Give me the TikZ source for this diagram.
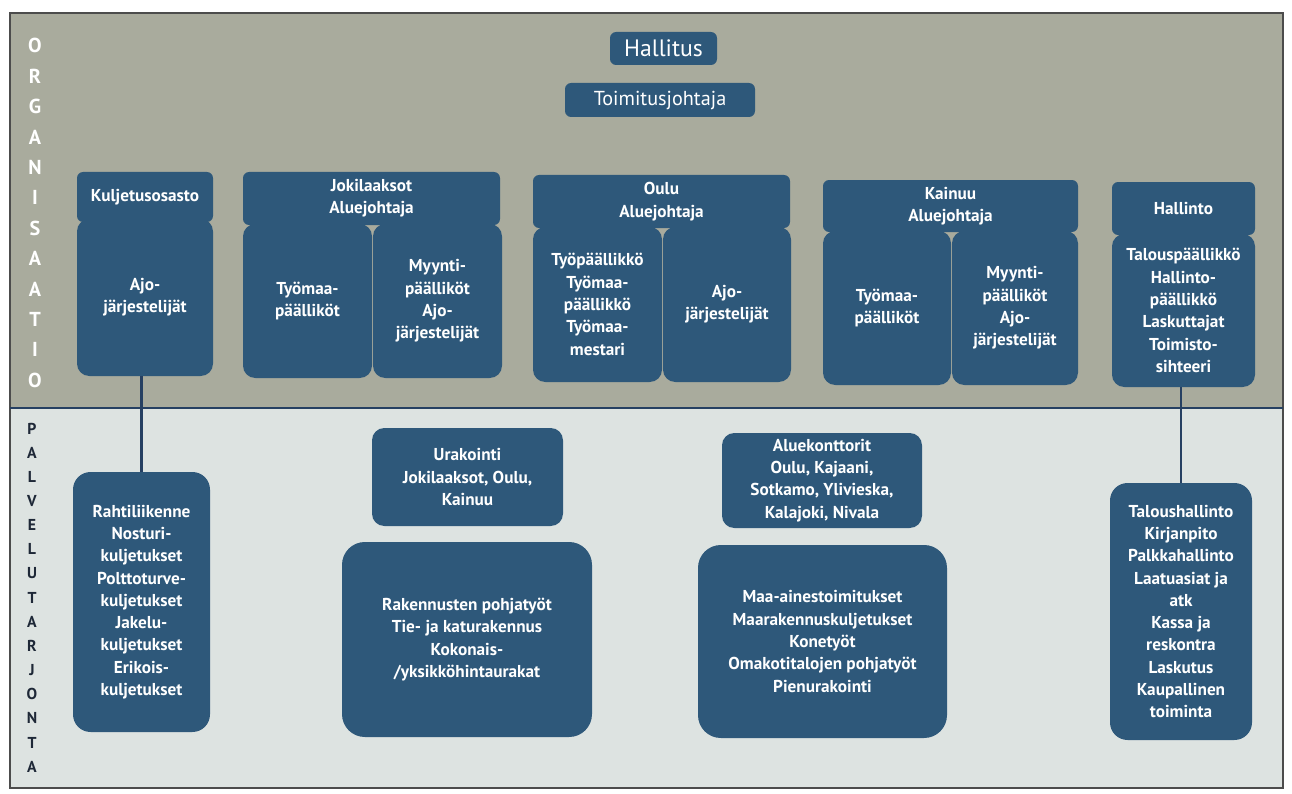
\documentclass[tikz,border=0pt]{standalone}
\usepackage{fontspec}
\setmainfont{PT Sans}
\usepackage{tikz}

\definecolor{boxblue}{RGB}{46,88,122}
\definecolor{orgband}{RGB}{169,171,157}
\definecolor{palband}{RGB}{221,227,225}
\definecolor{linenavy}{RGB}{38,64,98}
\definecolor{letterdark}{RGB}{30,40,55}

\begin{document}
\begin{tikzpicture}[x=0.02cm, y=-0.02cm,
  wh/.style 2 args = {minimum width=#1*0.02cm, minimum height=#2*0.02cm},
  box/.style = {fill=boxblue, text=white, inner sep=0pt, align=center, font=\fontsize{9.8}{12.7}\selectfont\bfseries},
  head/.style = {box, rounded corners=3.5pt},
  body/.style = {box, rounded corners=7pt},
  serv/.style = {box, rounded corners=10pt},
  side/.style = {inner sep=0pt, align=center}]
\useasboundingbox (0,0) rectangle (1292,794);
\fill[orgband] (10,13) rectangle (1283,408);
\fill[palband] (10,408) rectangle (1283,788);
\draw[gray!60!black, line width=0.6pt] (10,13) rectangle (1283,788);
\draw[linenavy, line width=1.1pt] (10,408) -- (1283,408);

\node[side, text=white, font=\fontsize{11.5}{17.3}\selectfont\bfseries] (22) at (35,213) {O\\R\\G\\A\\N\\I\\S\\A\\A\\T\\I\\O};
\node[side, text=letterdark, font=\fontsize{9}{13.75}\selectfont\bfseries] (23) at (32,597.5) {P\\A\\L\\V\\E\\L\\U\\T\\A\\R\\J\\O\\N\\T\\A};

\node[head, wh={107}{33}, font=\fontsize{13.5}{16}\selectfont] (1) at (663.5,48.5) {Hallitus};
\node[head, wh={190}{34}, font=\fontsize{11.5}{14}\selectfont] (2) at (660,100) {Toimitusjohtaja};

\node[body, wh={136}{157}] (4) at (145,297.5) {Ajo-\\järjestelijät};
\node[head, wh={136}{50}] (3) at (145,197) {Kuljetusosasto};

\node[body, wh={129}{154}] (6) at (307.5,301) {Työmaa-\\päälliköt};
\node[body, wh={129}{154}] (7) at (437.5,301) {Myynti-\\päälliköt\\Ajo-\\järjestelijät};
\node[head, wh={257}{53}] (5) at (371.5,198.5) {Jokilaaksot\\Aluejohtaja};

\node[body, wh={129}{155}] (9) at (597.5,304.5) {Työpäällikkö\\Työmaa-\\päällikkö\\Työmaa-\\mestari};
\node[body, wh={128}{155}] (10) at (727,304.5) {Ajo-\\järjestelijät};
\node[head, wh={257}{53}] (8) at (661.5,201.5) {Oulu\\Aluejohtaja};

\node[body, wh={128}{154}] (12) at (887,308) {Työmaa-\\päälliköt};
\node[body, wh={126}{154}] (13) at (1015,308) {Myynti-\\päälliköt\\Ajo-\\järjestelijät};
\node[head, wh={255}{52}] (11) at (950.5,206) {Kainuu\\Aluejohtaja};

\node[body, wh={143}{153}] (15) at (1183.5,310.5) {Talouspäällikkö\\Hallinto-\\päällikkö\\Laskuttajat\\Toimisto-\\sihteeri};
\node[head, wh={143}{53}] (14) at (1183.5,208.5) {Hallinto};

\node[serv, wh={137}{260}] (16) at (141.5,602) {Rahtiliikenne\\Nosturi-\\kuljetukset\\Polttoturve-\\kuljetukset\\Jakelu-\\kuljetukset\\Erikois-\\kuljetukset};
\node[serv, wh={191}{98}, rounded corners=7pt] (17) at (467.5,477) {Urakointi\\Jokilaaksot, Oulu,\\Kainuu};
\node[serv, wh={250}{195}, rounded corners=13pt] (18) at (467,639.5) {Rakennusten pohjatyöt\\Tie- ja katurakennus\\Kokonais-\\/yksikköhintaurakat};
\node[serv, wh={200}{95}, rounded corners=7pt] (19) at (822,480.5) {Aluekonttorit\\Oulu, Kajaani,\\Sotkamo, Ylivieska,\\Kalajoki, Nivala};
\node[serv, wh={249}{193}, rounded corners=13pt] (20) at (822.5,641.5) {Maa-ainestoimitukset\\Maarakennuskuljetukset\\Konetyöt\\Omakotitalojen pohjatyöt\\Pienurakointi};
\node[serv, wh={142}{257}] (21) at (1181,611.5) {Taloushallinto\\Kirjanpito\\Palkkahallinto\\Laatuasiat ja\\atk\\Kassa ja\\reskontra\\Laskutus\\Kaupallinen\\toiminta};

\draw[linenavy, line width=1.3pt] (16.north |- 4.south) -- (16.north);
\draw[linenavy, line width=1.3pt] (21.north |- 15.south) -- (21.north);
\end{tikzpicture}
\end{document}
